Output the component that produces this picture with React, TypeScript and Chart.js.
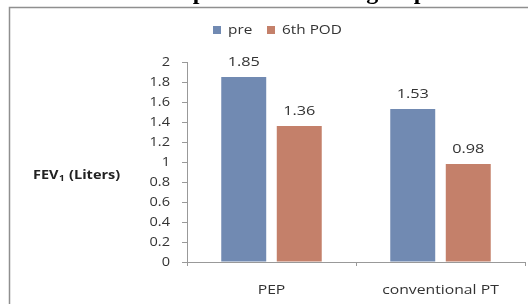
import React, { useEffect, useRef } from "react";
import { Chart, registerables } from "chart.js";

Chart.register(...registerables);

const categories = ["PEP", "conventional PT"];
const seriesNames = ["pre", "6th POD"];
const preValues = [1.85, 1.53];
const podValues = [1.36, 0.98];
const valueLabels = [["1.85", "1.53"], ["1.36", "0.98"]];
const colors = ["#718AB2", "#C4806A"];
const titleText = "Comparison between groups";
const FONT = "'Open Sans', sans-serif";

function drawText(ctx: any, text: string, x: number, y: number, align: string, sx: number) {
  ctx.save();
  ctx.translate(x, y);
  ctx.scale(sx, 1);
  ctx.textAlign = align;
  ctx.fillText(text, 0, 0);
  ctx.restore();
}

const decorPlugin = {
  id: "decor",
  beforeDraw(chart: any) {
    const ctx = chart.ctx;
    ctx.save();
    ctx.fillStyle = "#ffffff";
    ctx.fillRect(0, 0, chart.width, chart.height);
    ctx.fillStyle = "#000";
    ctx.font = "bold 24px 'Liberation Serif', serif";
    ctx.textAlign = "center";
    ctx.textBaseline = "alphabetic";
    ctx.fillText(titleText, 290, -1);
    ctx.strokeStyle = "#8f8f8f";
    ctx.lineWidth = 1.5;
    ctx.beginPath();
    ctx.moveTo(9.5, chart.height);
    ctx.lineTo(9.5, 7.5);
    ctx.lineTo(chart.width, 7.5);
    ctx.stroke();
    ctx.restore();
  },
  afterDraw(chart: any) {
    const ctx = chart.ctx;
    ctx.save();
    ctx.textBaseline = "middle";
    // legend
    ctx.font = "13px " + FONT;
    const ly = 30;
    const lxs = [213, 267];
    seriesNames.forEach((name, i) => {
      ctx.fillStyle = colors[i];
      ctx.fillRect(lxs[i], ly - 4, 8, 8);
      ctx.fillStyle = "#333";
      drawText(ctx, name, lxs[i] + 15, ly, "left", 1.18);
    });
    // y title
    ctx.fillStyle = "#222";
    const sx = 1.16;
    ctx.save();
    ctx.translate(33, 175);
    ctx.scale(sx, 1);
    ctx.textAlign = "left";
    let tx = 0;
    ctx.font = "bold 12.5px " + FONT;
    ctx.fillText("FEV", tx, 0);
    tx += ctx.measureText("FEV").width;
    ctx.font = "bold 8.5px " + FONT;
    ctx.fillText("1", tx + 0.5, 3.5);
    tx += ctx.measureText("1").width + 1;
    ctx.font = "bold 12.5px " + FONT;
    ctx.fillText(" (Liters)", tx, 0);
    ctx.restore();
    // y tick labels
    ctx.fillStyle = "#333";
    ctx.font = "13px " + FONT;
    const ys = chart.scales.y;
    ys.ticks.forEach((t: any) => {
      const lbl = String(Math.round(Number(t.value) * 10) / 10);
      drawText(ctx, lbl, 170, ys.getPixelForValue(t.value), "right", 1.12);
    });
    // x tick labels
    const xs = chart.scales.x;
    categories.forEach((c, i) => {
      drawText(ctx, c, xs.getPixelForValue(i), 290, "center", 1.21);
    });
    // value labels
    ctx.font = "13px " + FONT;
    chart.data.datasets.forEach((ds: any, di: number) => {
      const meta = chart.getDatasetMeta(di);
      meta.data.forEach((bar: any, i: number) => {
        drawText(ctx, valueLabels[di][i], bar.x, bar.y - 15, "center", 1.25);
      });
    });
    ctx.restore();
  },
};

export default function App() {
  const ref = useRef<HTMLCanvasElement>(null);
  useEffect(() => {
    const chart = new Chart(ref.current!, {
      type: "bar",
      data: {
        labels: categories,
        datasets: [
          { label: seriesNames[0], data: preValues, backgroundColor: colors[0], barPercentage: 0.81, categoryPercentage: 0.657 },
          { label: seriesNames[1], data: podValues, backgroundColor: colors[1], barPercentage: 0.81, categoryPercentage: 0.657 },
        ],
      },
      options: {
        responsive: false,
        animation: false,
        layout: { padding: { top: 62, right: 3, left: 0, bottom: 0 } },
        plugins: { legend: { display: false }, tooltip: { enabled: false }, title: { display: false } },
        scales: {
          x: {
            grid: { drawOnChartArea: false, drawTicks: true, tickLength: 4, color: "#999" },
            border: { display: true, color: "#999" },
            ticks: { display: false },
            afterFit(scale: any) { scale.height = 42; },
          },
          y: {
            min: 0,
            max: 2,
            grid: { drawOnChartArea: false, drawTicks: true, tickLength: 5, color: "#999" },
            border: { display: true, color: "#999" },
            ticks: { stepSize: 0.2, display: false },
            afterFit(scale: any) { scale.width = 187; },
          },
        },
      },
      plugins: [decorPlugin],
    });
    return () => chart.destroy();
  }, []);
  return (
    <div style={{ position: "fixed", left: 0, top: 0, width: 528, height: 304, background: "#fff" }}>
      <canvas ref={ref} width={528} height={304} style={{ display: "block" }} />
    </div>
  );
}
